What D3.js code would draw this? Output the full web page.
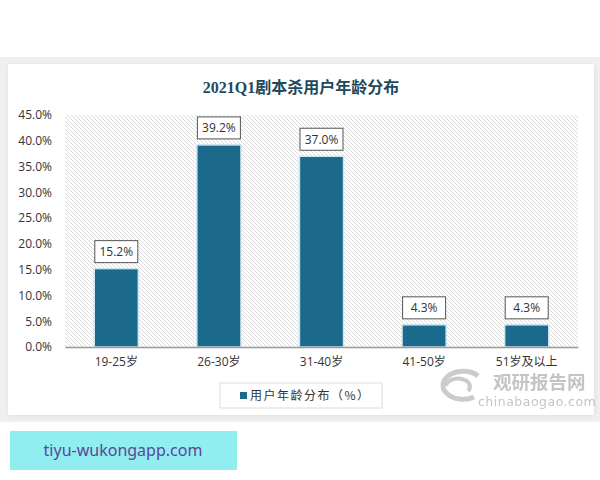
<!DOCTYPE html>
<html><head><meta charset="utf-8">
<script src="https://cdn.jsdelivr.net/npm/d3@7"></script>
<style>body{margin:0;background:#fff;}svg{display:block;}</style>
</head><body>
<svg id="c" width="600" height="480"></svg>
<script>
const categories = ["19-25岁","26-30岁","31-40岁","41-50岁","51岁及以上"];
const values = [15.2, 39.2, 37.0, 4.3, 4.3];
const yTicks = [0,5,10,15,20,25,30,35,40,45];
const title = "2021Q1剧本杀用户年龄分布";
const legendLabel = "用户年龄分布（%）";

const svg = d3.select("#c");
const defs = svg.append("defs");
const pat = defs.append("pattern").attr("id","hatch").attr("patternUnits","userSpaceOnUse")
  .attr("width",4).attr("height",4);
pat.append("rect").attr("width",4).attr("height",4).attr("fill","#ffffff");
pat.append("path").attr("d","M-1,-1 L5,5 M-1,3 L1,5 M3,-1 L5,1").attr("stroke","#d6d6d6").attr("stroke-width",0.9);
const sh = defs.append("filter").attr("id","sh").attr("x","-5%").attr("y","-5%").attr("width","110%").attr("height","110%");
sh.append("feGaussianBlur").attr("stdDeviation",2.5);

// gray band + card
svg.append("rect").attr("x",0).attr("y",57).attr("width",600).attr("height",365).attr("fill","#efefef");
svg.append("rect").attr("x",9).attr("y",66).attr("width",585).attr("height",349).attr("fill","#d8d8d8").attr("filter","url(#sh)");
svg.append("rect").attr("x",8).attr("y",64).attr("width",586).attr("height",351).attr("fill","#ffffff");

const margin = {left:65, right:578, top:115, bottom:347};
const x = d3.scaleBand().domain(categories).range([margin.left, margin.right]).paddingInner(0.57).paddingOuter(0.285);
const y = d3.scaleLinear().domain([0,45]).range([margin.bottom, margin.top]);

svg.append("rect").attr("x",margin.left).attr("y",margin.top).attr("width",margin.right-margin.left)
  .attr("height",margin.bottom-margin.top).attr("fill","url(#hatch)");

// title
svg.append("text").attr("x",301).attr("y",93).attr("text-anchor","middle")
  .attr("font-family","'Liberation Serif','Noto Sans CJK SC',serif").attr("font-weight","bold")
  .attr("font-size",16).attr("fill","#1d4a5c").text(title);

// y axis
const yAxis = svg.append("g").attr("transform",`translate(${margin.left},0)`)
  .call(d3.axisLeft(y).tickValues(yTicks).tickFormat(d=>d.toFixed(1)+"%").tickSize(0).tickPadding(13));
yAxis.select(".domain").remove();
yAxis.selectAll("text").attr("font-family","'Open Sans','DejaVu Sans',sans-serif").attr("font-size",12).attr("fill","#333");

// watermark (behind labels)
const wm = svg.append("g").attr("opacity",0.5);
wm.append("path").attr("d","M478,376 A20,14 0 1 0 474,397").attr("fill","none").attr("stroke","#999").attr("stroke-width",5);
wm.append("path").attr("d","M446,386 A12,8 0 1 1 468,391").attr("fill","none").attr("stroke","#999").attr("stroke-width",4);
wm.append("text").attr("x",493).attr("y",389).attr("font-family","'Noto Sans CJK SC',sans-serif").attr("font-weight","bold")
  .attr("font-size",18.5).attr("fill","#8a8a8a").text("观研报告网");
wm.append("text").attr("x",478).attr("y",406).attr("font-family","'DejaVu Sans',sans-serif")
  .attr("font-size",12.5).attr("fill","#8a8a8a").attr("letter-spacing",0.5).text("chinabaogao.com");

// bars
const bars = svg.append("g");
bars.selectAll("rect").data(values).join("rect")
  .attr("x",(d,i)=>x(categories[i])).attr("width",x.bandwidth())
  .attr("y",d=>y(d)).attr("height",d=>y(0)-y(d))
  .attr("fill","#1b6a8c").attr("stroke","#cfe6ee").attr("stroke-width",1.5);

// x axis
const xAxis = svg.append("g").attr("transform",`translate(0,${margin.bottom})`)
  .call(d3.axisBottom(x).tickSize(0).tickPadding(10));
xAxis.select(".domain").attr("stroke","#999").attr("stroke-width",1.5);
xAxis.selectAll("text").attr("font-family","'Open Sans','Noto Sans CJK SC',sans-serif").attr("font-size",12).attr("fill","#333");

// labels
const lab = svg.append("g");
values.forEach((v,i)=>{
  const cx = x(categories[i]) + x.bandwidth()/2;
  const top = y(v) - 6;
  lab.append("rect").attr("x",cx-21.5).attr("y",top-22).attr("width",43).attr("height",22)
    .attr("fill","#fff").attr("stroke","#555").attr("stroke-width",1);
  lab.append("text").attr("x",cx).attr("y",top-6.5).attr("text-anchor","middle")
    .attr("font-family","'Open Sans','DejaVu Sans',sans-serif").attr("font-size",12).attr("fill","#333")
    .text(v.toFixed(1)+"%");
});

// legend
const lg = svg.append("g");
lg.append("rect").attr("x",220).attr("y",383).attr("width",162).attr("height",25).attr("fill","#fff").attr("stroke","#ddd");
lg.append("rect").attr("x",240).attr("y",392).attr("width",7).attr("height",7).attr("fill","#1b6a8c");
lg.append("text").attr("x",250).attr("y",400).attr("font-family","'Noto Sans CJK SC',sans-serif")
  .attr("font-size",12).attr("fill","#333").attr("letter-spacing",1.5).text(legendLabel);

// bottom box
svg.append("rect").attr("x",10).attr("y",431).attr("width",227).attr("height",39).attr("fill","#90edf0");
svg.append("text").attr("x",123).attr("y",456).attr("text-anchor","middle").attr("font-family","'Noto Sans','DejaVu Sans',sans-serif")
  .attr("font-size",16).attr("fill","#5a4795").text("tiyu-wukongapp.com");
</script>
</body></html>
